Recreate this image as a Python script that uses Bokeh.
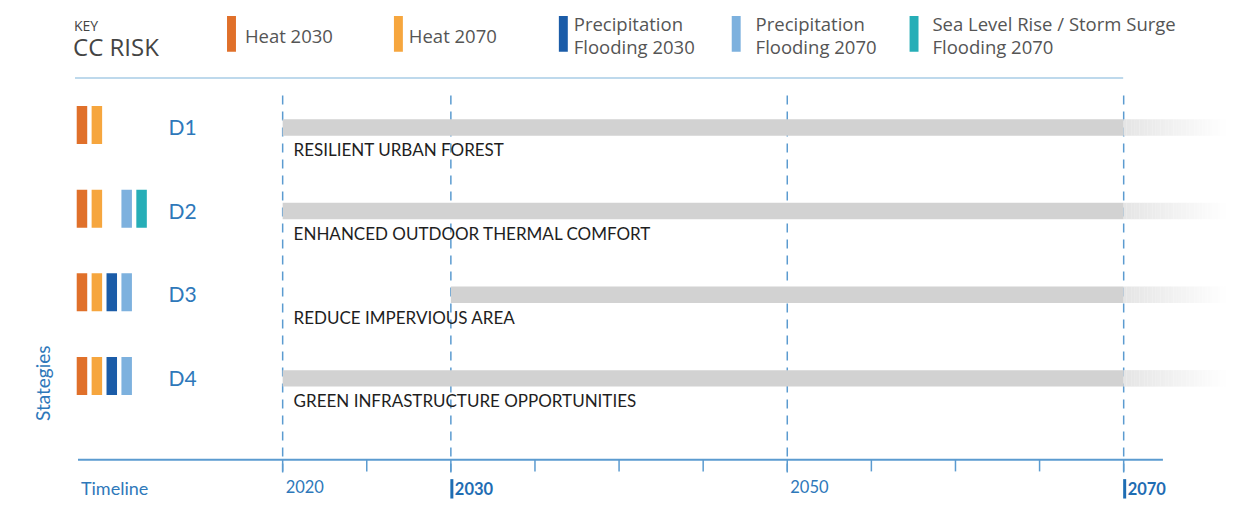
import math
from bokeh.plotting import figure
from bokeh.models import Range1d
from bokeh.core.properties import value
from bokeh.embed import file_html
from bokeh.resources import INLINE

# ---------------- data ----------------
strategies = ["D1", "D2", "D3", "D4"]
strategy_names = ["RESILIENT URBAN FOREST",
                  "ENHANCED OUTDOOR THERMAL COMFORT",
                  "REDUCE IMPERVIOUS AREA",
                  "GREEN INFRASTRUCTURE OPPORTUNITIES"]
start_years = [2020, 2020, 2030, 2020]
end_year = 2070
risk_keys = [["Heat 2030"], ["Heat 2070"],
             ["Precipitation", "Flooding 2030"],
             ["Precipitation", "Flooding 2070"],
             ["Sea Level Rise / Storm Surge", " Flooding 2070"]]
risk_colors = ["#E0702A", "#F6A63E", "#1B5CA8", "#7DB1DE", "#26AEB7"]
strategy_risks = [[0, 1], [0, 1, 3, 4], [0, 1, 2, 3], [0, 1, 2, 3]]
milestone_years = [2020, 2030, 2050, 2070]
minor_tick_years = [2020, 2025, 2030, 2035, 2040, 2045, 2050, 2055, 2060, 2065, 2070]
bold_years = [2030, 2070]

# ---------------- layout helpers (reference px -> data) ----------------
PX_PER_YEAR = 16.93
PX_PER_ROW = 86.33
X0_PX, Y0_PX = 284.0, 131.0     # reference px of 2020 / first row


def X(px):
    return 2020 + (px - X0_PX) / PX_PER_YEAR


def Y(py):
    return (py - Y0_PX) / PX_PER_ROW


def dx(px):
    return px / PX_PER_YEAR


def dy(py):
    return py / PX_PER_ROW


W, H = 1227, 499
p = figure(width=W, height=H, output_backend="svg", toolbar_location=None,
           x_range=Range1d(X(0), X(1235)), y_range=Range1d(Y(515), Y(0)),
           x_axis_type=None, y_axis_type=None, min_border=0)
p.outline_line_color = None
p.grid.visible = False
p.background_fill_color = "white"
p.border_fill_color = "white"

BLUE_TXT = "#2E78BA"
DASH_COL = "#5B9BD0"
FONT = value("Lato")
FONT2 = value("Open Sans")
rows = list(range(len(strategies)))

# ---------------- header / key ----------------
p.text(x=[X(74)], y=[Y(26)], text=["KEY"], text_font=FONT2, text_font_size="14px",
       text_color="#444444", text_baseline="middle")
p.text(x=[X(73)], y=[Y(47)], text=["CC RISK"], text_font=FONT2, text_font_size="24px",
       text_color="#444444", text_baseline="middle")
sw_left = [228, 396, 562, 736, 915]
tx_left = [246, 411, 577, 760, 938]
p.quad(left=[X(v) for v in sw_left], right=[X(v + 9) for v in sw_left],
       top=[Y(16)] * 5, bottom=[Y(53)] * 5, fill_color=risk_colors, line_color=None)
for i, lines in enumerate(risk_keys):
    ys = [36] if len(lines) == 1 else [24, 47]
    for ln, yy in zip(lines, ys):
        p.text(x=[X(tx_left[i])], y=[Y(yy)], text=[ln], text_font=FONT2, text_font_size="18.5px",
               text_color="#555555", text_baseline="middle")
p.segment(x0=[X(75)], x1=[X(1130)], y0=[Y(80)], y1=[Y(80)], line_color="#A8CDE6", line_width=1.5)

# ---------------- dashed milestone lines ----------------
p.segment(x0=milestone_years, x1=milestone_years, y0=[Y(98)] * 4, y1=[Y(490)] * 4,
          line_color=DASH_COL, line_width=1.5, line_dash="9 7")

# ---------------- strategy bars ----------------
bh = dy(8.5)
p.quad(left=start_years, right=[end_year] * 4,
       top=[r - bh for r in rows], bottom=[r + bh for r in rows],
       fill_color="#D2D2D2", line_color=None)
# fading tail past 2070
n = 40
tail_end = X(1236)
step = (tail_end - end_year) / n
for j in range(n):
    t = j / (n - 1)
    c = int(round(0xE5 + (0xFF - 0xE5) * t))
    col = "#%02x%02x%02x" % (c, c, c)
    p.quad(left=[end_year + j * step] * 4, right=[end_year + (j + 1) * step + 0.01] * 4,
           top=[r - bh for r in rows], bottom=[r + bh for r in rows],
           fill_color=col, line_color=None)
p.text(x=[X(295)] * 4, y=[r + dy(23) for r in rows], text=strategy_names, text_font=FONT,
       text_font_size="17px", text_color="#1E1E1E", text_baseline="middle")

# ---------------- strategy ids and risk indicators ----------------
p.text(x=[X(169)] * 4, y=[r - dy(1) for r in rows], text=strategies, text_font=FONT,
       text_font_size="21px", text_color=BLUE_TXT, text_baseline="middle")
rx, ry, rc = [], [], []
for r, risks in zip(rows, strategy_risks):
    for k in risks:
        rx.append(X(82 + 15 * k))
        ry.append(r - dy(2.5))
        rc.append(risk_colors[k])
p.rect(x=rx, y=ry, width=10.5, height=38, width_units="screen", height_units="screen",
       fill_color=rc, line_color=None)

# ---------------- timeline axis ----------------
p.segment(x0=[X(78)], x1=[X(1170)], y0=[Y(474)], y1=[Y(474)], line_color="#5B9BD0", line_width=2)
p.segment(x0=minor_tick_years, x1=minor_tick_years, y0=[Y(474)] * len(minor_tick_years),
          y1=[Y(486)] * len(minor_tick_years), line_color="#5B9BD0", line_width=1.5)
p.text(x=[X(81)], y=[Y(503)], text=["Timeline"], text_font=FONT, text_font_size="18px",
       text_color=BLUE_TXT, text_baseline="middle")
for yr in milestone_years:
    if yr in bold_years:
        p.segment(x0=[yr + dx(1)], x1=[yr + dx(1)], y0=[Y(494)], y1=[Y(514)],
                  line_color="#1F6DB3", line_width=3)
        p.text(x=[yr + dx(4)], y=[Y(504)], text=[str(yr)], text_font=FONT,
               text_font_size="16.5px", text_font_style="bold", text_color="#1F6DB3",
               text_baseline="middle")
    else:
        p.text(x=[yr + dx(3)], y=[Y(502)], text=[str(yr)], text_font=FONT,
               text_font_size="16.5px", text_color=BLUE_TXT, text_baseline="middle")

p.text(x=[X(42)], y=[Y(395)], text=["Stategies"], text_font=FONT, text_font_size="19px",
       text_color=BLUE_TXT, text_baseline="middle", text_align="center", angle=math.pi / 2)

open("out.html", "w").write(file_html(p, INLINE))
